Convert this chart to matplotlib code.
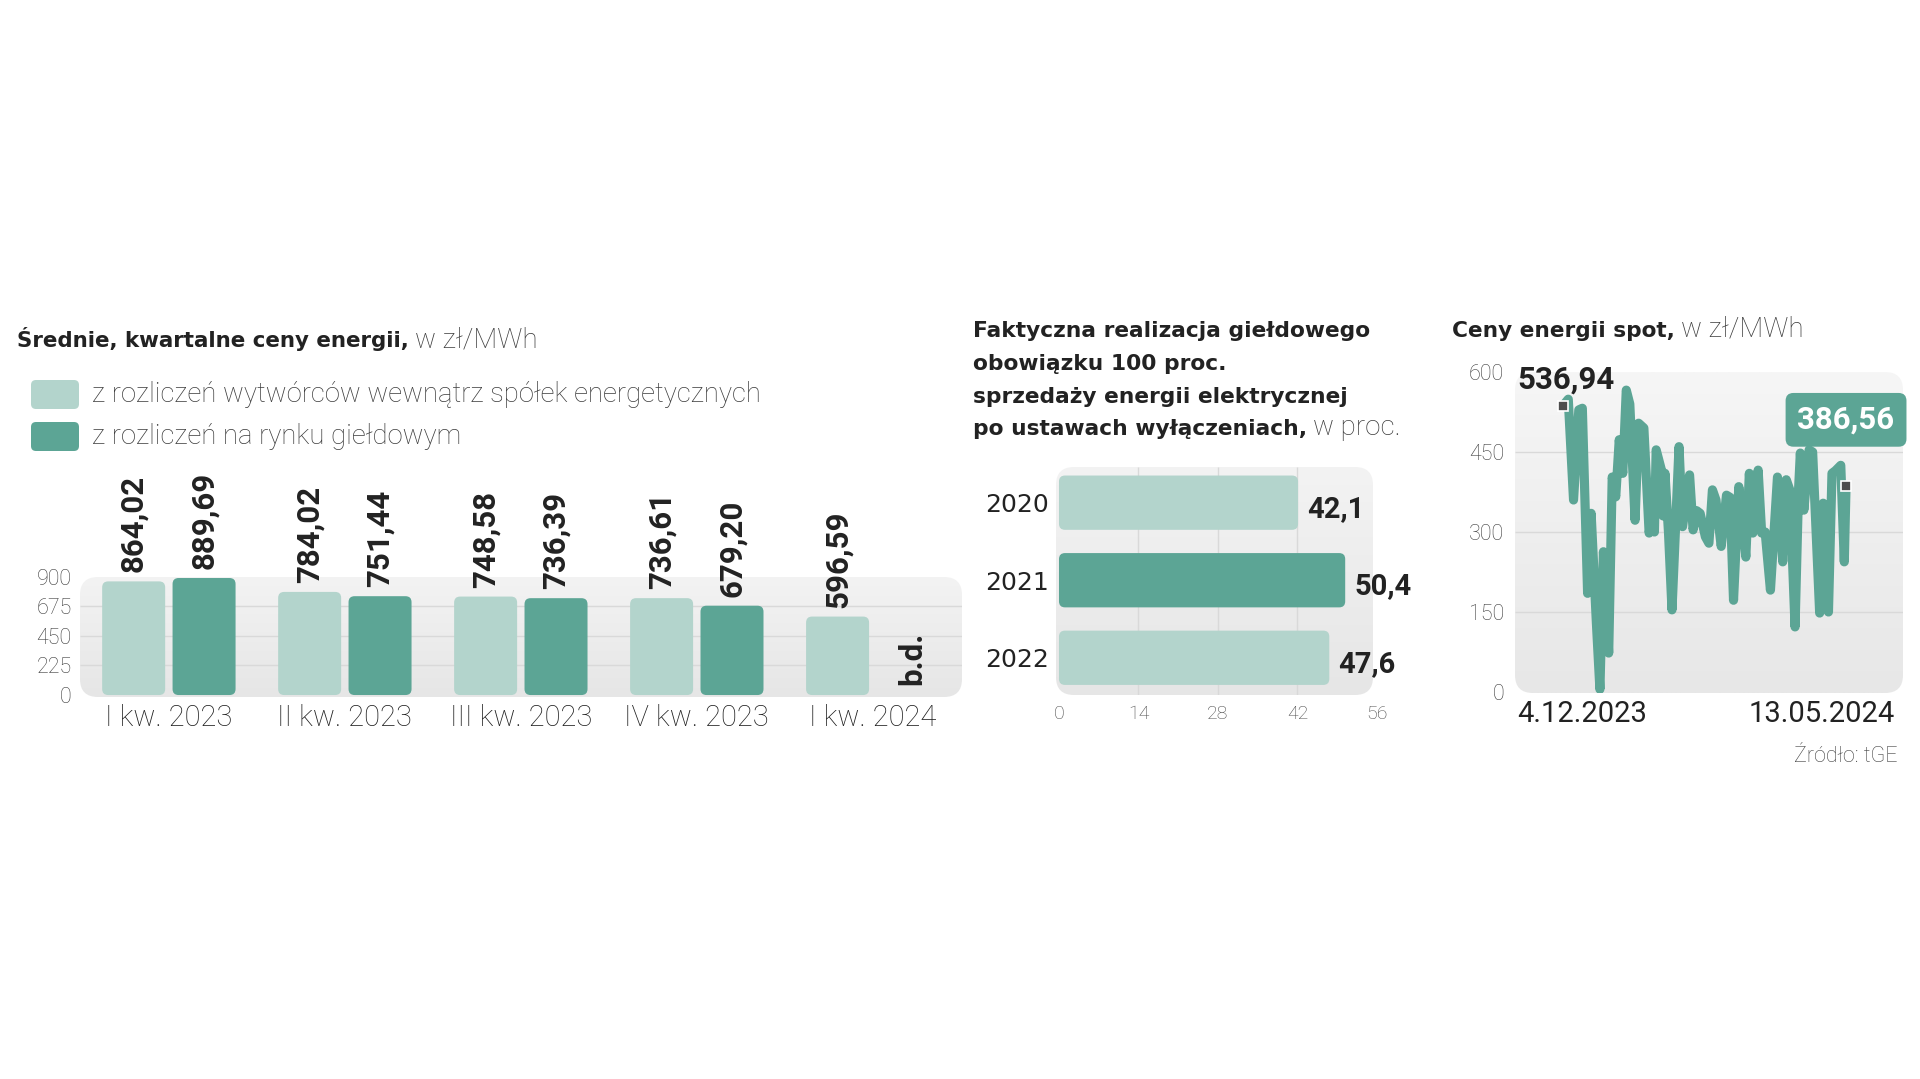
import numpy as np
import matplotlib
matplotlib.use("Agg")
import matplotlib.pyplot as plt
from matplotlib import font_manager
from matplotlib.colors import LinearSegmentedColormap
from matplotlib.patches import FancyBboxPatch

# --- dane: średnie kwartalne ceny energii, zł/MWh ---
quarters = ["I kw. 2023", "II kw. 2023", "III kw. 2023", "IV kw. 2023", "I kw. 2024"]
internal = [864.02, 784.02, 748.58, 736.61, 596.59]   # wewnątrz spółek
exchange = [889.69, 751.44, 736.39, 679.20]           # rynek giełdowy (I kw. 2024 b.d.)
price_ticks = [0, 225, 450, 675, 900]

# --- dane: realizacja obowiązku giełdowego, % ---
years = ["2020", "2021", "2022"]
share = [42.1, 50.4, 47.6]
share_ticks = [0, 14, 28, 42, 56]

# --- dane: ceny spot (dni od 4.12.2023), zł/MWh ---
spot_days = [0, 3, 6, 9, 11, 14, 16, 19, 21, 23, 26, 28, 30, 32, 34, 36, 38, 41, 43, 46,
             49, 51, 52, 53, 56, 57, 58, 60, 62, 66, 68, 72, 74, 76, 78, 81, 83, 85, 87, 88,
             90, 93, 95, 97, 100, 102, 104, 106, 108, 111, 113, 115, 118, 122, 125, 127, 129,
             132, 134, 135, 137, 140, 142, 146, 148, 151, 153, 155, 158, 160, 161]
spot_prices = [536.94, 549, 360, 529, 532, 185, 335, 129, 5, 263, 73, 403, 366, 473, 410, 566,
               540, 322, 504, 495, 298, 340, 300, 454, 416, 330, 410, 300, 154, 460, 310, 407,
               304, 340, 335, 291, 279, 379, 360, 329, 273, 369, 365, 172, 385, 330, 253, 410,
               298, 416, 298, 300, 191, 403, 244, 398, 379, 122, 380, 448, 341, 454, 450, 148,
               354, 150, 410, 415, 425, 244, 386.56]
spot_ticks = [0, 150, 300, 450, 600]
date_labels = ["4.12.2023", "13.05.2024"]

W, H = 1920, 1079
LIGHT = "#b3d4cc"
DARK = "#5ca595"
INK = "#222222"
SOFT = "#3c3c3c"
GRID = "#d9d9d9"

installed = {f.name for f in font_manager.fontManager.ttflist}
SANS = "Roboto" if "Roboto" in installed else "DejaVu Sans"
HEAD = "DejaVu Sans"
plt.rcParams["font.family"] = [SANS, "DejaVu Sans"]


def pl(v, nd):
    # przecinek dziesiętny
    return f"{v:.{nd}f}".replace(".", ",")


fig = plt.figure(figsize=(W / 100, H / 100), dpi=100, facecolor="white")
renderer = fig.canvas.get_renderer()
bg = fig.add_axes([0, 0, 1, 1], zorder=0)
bg.axis("off")
grad = np.linspace(0, 1, 256).reshape(-1, 1)


def panel(x0, y0, x1, y1, top="#f3f3f3", bottom="#e6e6e6", r=18):
    box = FancyBboxPatch((x0, y0), x1 - x0, y1 - y0,
                         boxstyle=f"round,pad=0,rounding_size={r}", fc="none", ec="none")
    bg.add_patch(box)
    cmap = LinearSegmentedColormap.from_list("panel", [top, bottom])
    im = bg.imshow(grad, extent=(x0, x1, y1, y0), cmap=cmap, aspect="auto",
                   interpolation="bilinear", zorder=0)
    im.set_clip_path(box)


def px_axes(x0, y0, x1, y1):
    ax = fig.add_axes([x0 / W, 1 - y1 / H, (x1 - x0) / W, (y1 - y0) / H], zorder=1)
    ax.set_facecolor("none")
    for s in ax.spines.values():
        s.set_visible(False)
    ax.tick_params(length=0)
    return ax


def round_bars(ax, bars, rpx):
    p = ax.transData.transform([(0, 0), (1, 1)])
    dx, dy = abs(p[1, 0] - p[0, 0]), abs(p[1, 1] - p[0, 1])
    for b in bars:
        patch = FancyBboxPatch((b.get_x(), b.get_y()), b.get_width(), b.get_height(),
                               boxstyle=f"round,pad=0,rounding_size={rpx / dx}",
                               mutation_aspect=dx / dy, fc=b.get_facecolor(), ec="none",
                               zorder=b.get_zorder())
        ax.add_patch(patch)
        b.set_visible(False)


def ftext(x, y, s, **kw):
    return fig.text(x / W, 1 - y / H, s, **kw)


def title(x, y, bold, rest, size, rest_size=20):
    t = ftext(x, y, bold, fontsize=size, fontfamily=HEAD, fontweight="bold",
              color=INK, va="baseline")
    if rest:
        bb = t.get_window_extent(renderer)
        ftext(bb.x1 + 6, y, rest, fontsize=rest_size, fontweight="light",
              color=SOFT, va="baseline")
    return t


panel(80, 577, 962, 697)
panel(1056, 467, 1373, 695)
panel(1515, 372, 1903, 693, top="#f6f6f6", bottom="#e7e7e7")
bg.set_xlim(0, W)
bg.set_ylim(H, 0)

# ---------------- lewy wykres ----------------
title(17, 347, "Średnie, kwartalne ceny energii,", "w zł/MWh", 15.4)
for (y0, col, lab) in [(380, LIGHT, "z rozliczeń wytwórców wewnątrz spółek energetycznych"),
                       (422, DARK, "z rozliczeń na rynku giełdowym")]:
    bg.add_patch(FancyBboxPatch((31, y0), 48, 29, boxstyle="round,pad=0,rounding_size=5",
                                fc=col, ec="none"))
    ftext(92, y0 + 15, lab, fontsize=19.8, fontweight="light", color=SOFT, va="center")

axL = px_axes(80, 576, 962, 697)
x = np.arange(len(quarters))
axL.set_xlim(-0.505, 4.507)
axL.set_ylim(-15, 905)
axL.hlines(price_ticks[1:-1], -0.505, 4.507, color=GRID, lw=1, zorder=0)
b1 = axL.bar(x - 0.2, internal, 0.358, color=LIGHT, zorder=2)
b2 = axL.bar(x[:len(exchange)] + 0.2, exchange, 0.358, color=DARK, zorder=2)
round_bars(axL, b1, 6)
round_bars(axL, b2, 6)
for xs, vals in [(x - 0.2, internal), (x[:len(exchange)] + 0.2, exchange)]:
    for xi, v in zip(xs, vals):
        axL.annotate(pl(v, 2), (xi, v), xytext=(0, 9), textcoords="offset pixels",
                     rotation=90, ha="center", va="bottom", fontweight="bold",
                     fontsize=22.5, color=INK, annotation_clip=False)
axL.annotate("b.d.", (x[-1] + 0.2, 0), xytext=(4, 10), textcoords="offset pixels",
             rotation=90, ha="center", va="bottom", fontweight="bold",
             fontsize=22.5, color=INK, annotation_clip=False)
axL.set_xticks(x, quarters, fontsize=21, fontweight="light", color="#1e1e1e")
axL.set_yticks(price_ticks, [str(t) for t in price_ticks], fontsize=15.5,
               fontweight="light", color=SOFT)
axL.tick_params(axis="x", pad=5)
axL.tick_params(axis="y", pad=6)

# ---------------- środkowy wykres ----------------
mid_lines = ["Faktyczna realizacja giełdowego", "obowiązku 100 proc.",
             "sprzedaży energii elektrycznej"]
for i, line in enumerate(mid_lines):
    title(973, 337 + i * 32.8, line, None, 15.7)
title(973, 435, "po ustawach wyłączeniach,", "w proc.", 15.7)

axM = px_axes(1057, 467, 1377, 695)
yy = np.arange(len(years))
axM.set_xlim(-0.35, 56)
axM.set_ylim(2.48, -0.46)
axM.vlines(share_ticks[1:-1], 2.48, -0.46, color=GRID, lw=1, zorder=0)
bm = axM.barh(yy, share, height=0.70, color=[LIGHT, DARK, LIGHT], zorder=2)
round_bars(axM, bm, 6)
for yi, v in zip(yy, share):
    axM.annotate(pl(v, 1), (v, yi), xytext=(9, -14), textcoords="offset pixels",
                 ha="left", va="baseline", fontsize=21, fontweight="bold", color=INK,
                 annotation_clip=False)
axM.set_yticks(yy, years, fontsize=18, fontfamily="DejaVu Sans", color=INK)
axM.set_xticks(share_ticks, [str(t) for t in share_ticks], fontsize=14,
               fontweight="light", color="#4a4a4a")
axM.tick_params(axis="y", pad=6)
axM.tick_params(axis="x", pad=7)

# ---------------- prawy wykres ----------------
title(1452, 337, "Ceny energii spot,", "w zł/MWh", 15.6)
axR = px_axes(1515, 372, 1903, 693)
axR.set_xlim(-27.3, 193.4)
axR.set_ylim(-1.9, 600)
axR.hlines(spot_ticks[1:-1], -27.3, 193.4, color=GRID, lw=1, zorder=0)
axR.plot(spot_days, spot_prices, color=DARK, lw=6.6, solid_joinstyle="round",
         solid_capstyle="round", zorder=3)
ends_x = [spot_days[0], spot_days[-1]]
ends_y = [spot_prices[0], spot_prices[-1]]
axR.plot(ends_x, ends_y, "s", ms=6.5, mfc="#4d4d4d", mec="white", mew=1.2, zorder=4)
axR.annotate(pl(spot_prices[0], 2), (ends_x[0], ends_y[0]), xytext=(-46, 17),
             textcoords="offset pixels", ha="left", va="baseline", fontsize=22.5,
             fontweight="bold", color=INK, annotation_clip=False)
axR.annotate(pl(spot_prices[-1], 2), (ends_x[1], ends_y[1]), xytext=(0, 57),
             textcoords="offset pixels", ha="center", va="baseline", fontsize=22.5,
             fontweight="bold", color="white", annotation_clip=False, zorder=5,
             bbox=dict(boxstyle="round,pad=0.38,rounding_size=0.25", fc=DARK, ec="none"))
axR.set_xticks([])
axR.set_yticks(spot_ticks, [str(t) for t in spot_ticks], fontsize=15.5,
               fontweight="light", color=SOFT)
axR.tick_params(axis="y", pad=8)
axR.text(0.005, -0.0903, date_labels[0], transform=axR.transAxes, ha="left",
         va="baseline", fontsize=21, color=INK)
axR.text(0.979, -0.0903, date_labels[1], transform=axR.transAxes, ha="right",
         va="baseline", fontsize=21, color=INK)
ftext(1897, 762, "Źródło: tGE", ha="right", va="baseline", fontsize=15.5,
      fontweight="light", color="#404040")

fig.savefig("out.png", dpi=100, facecolor="white")
